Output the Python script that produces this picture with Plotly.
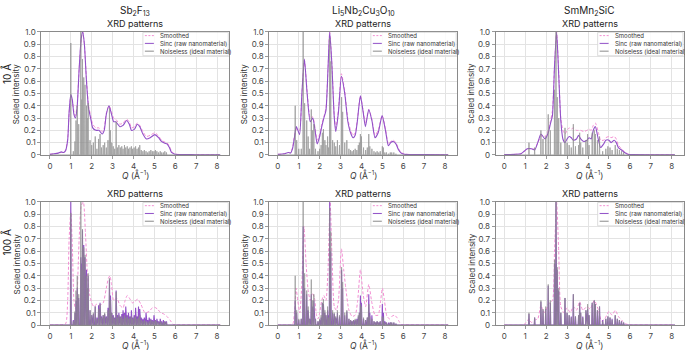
import plotly.graph_objects as go

# ---------------- data ----------------
# Sb2F13
Q_SB_10 = [0,0.2,0.4,0.55,0.65,0.75,0.85,0.92,1.0,1.07,1.15,1.22,1.3,1.4,1.5,1.57,1.65,1.75,1.85,1.95,
           2.05,2.2,2.35,2.5,2.6,2.7,2.83,2.95,3.05,3.15,3.35,3.5,3.67,3.8,3.9,4.05,4.18,4.3,4.45,4.62,
           4.8,5.02,5.2,5.34,5.5,5.6,5.72,5.82,5.95,6.1,6.5,7.0,7.5,8.15]
V_SB_SINC10 = [0.005,0.01,0.015,0.025,0.02,0.035,0.12,0.35,0.49,0.45,0.33,0.30,0.38,0.70,0.95,1.0,0.9,0.6,0.38,0.30,
               0.22,0.20,0.20,0.17,0.20,0.33,0.40,0.33,0.27,0.27,0.23,0.24,0.28,0.25,0.20,0.21,0.25,0.23,0.17,0.13,
               0.14,0.165,0.14,0.11,0.095,0.09,0.06,0.02,0.008,0.004,0.003,0.002,0.002,0.002]
V_SB_SM10 = [0.005,0.01,0.015,0.02,0.02,0.04,0.13,0.34,0.48,0.45,0.35,0.32,0.40,0.70,0.94,1.0,0.9,0.62,0.40,0.32,
             0.25,0.22,0.22,0.19,0.22,0.34,0.40,0.35,0.30,0.29,0.25,0.26,0.29,0.27,0.22,0.23,0.26,0.24,0.19,0.15,
             0.16,0.18,0.155,0.12,0.105,0.10,0.07,0.03,0.01,0.005,0.003,0.002,0.002,0.002]
PK_SB_Q = [1.00,1.12,1.20,1.25,1.31,1.38,1.48,1.52,1.56,1.62,1.68,1.75,1.79,1.83,1.92,2.00,2.08,2.17,2.25,2.33,
           2.40,2.47,2.55,2.62,2.70,2.78,2.85,2.90,2.96,3.03,3.10,3.17,3.23,3.30,3.37,3.44,3.50,3.57,3.63,3.70,
           3.76,3.83,3.90,3.96,4.03,4.10,4.17,4.24,4.30,4.37,4.45,4.52,4.60,4.68,4.75,4.83,4.90,4.98,5.05,5.12,
           5.20,5.28,5.35,5.43,5.50,5.58]
PK_SB_H = [0.91,0.03,0.11,0.28,0.40,0.25,1.00,0.45,0.78,0.63,0.57,0.40,0.30,0.42,0.12,0.08,0.10,0.15,0.05,0.13,
           0.17,0.06,0.08,0.10,0.06,0.12,0.38,0.20,0.10,0.07,0.05,0.27,0.06,0.08,0.06,0.07,0.05,0.08,0.06,0.07,
           0.05,0.06,0.07,0.05,0.06,0.07,0.05,0.06,0.08,0.04,0.03,0.04,0.03,0.02,0.03,0.04,0.03,0.03,0.04,0.03,
           0.02,0.03,0.02,0.02,0.03,0.02]
PK_SB_SINC100_H = [1.0,0.04,0.10,0.20,0.30,0.22,0.55,0.50,0.77,0.65,0.55,0.45,0.30,0.40,0.12,0.08,0.09,0.15,0.06,0.16,
                   0.18,0.07,0.08,0.09,0.07,0.14,0.37,0.24,0.10,0.08,0.06,0.28,0.08,0.10,0.07,0.09,0.12,0.10,0.15,0.08,
                   0.10,0.07,0.12,0.06,0.08,0.14,0.07,0.15,0.13,0.06,0.05,0.06,0.10,0.04,0.06,0.05,0.04,0.08,0.04,0.05,
                   0.03,0.05,0.03,0.04,0.03,0.03]
Q_SB_SM100 = [0,0.5,0.75,0.85,0.92,1.0,1.08,1.15,1.22,1.3,1.4,1.5,1.6,1.7,1.8,1.9,2.0,2.1,2.25,2.4,
              2.55,2.7,2.8,2.87,2.95,3.05,3.2,3.35,3.5,3.6,3.7,3.8,3.95,4.05,4.2,4.35,4.55,4.75,4.9,5.0,
              5.15,5.3,5.45,5.6,5.75,5.9,6.1,7.0,8.15]
V_SB_SM100 = [0,0.002,0.01,0.2,0.7,0.92,0.6,0.2,0.13,0.25,0.7,0.97,1.0,0.75,0.4,0.25,0.18,0.15,0.17,0.16,
              0.18,0.30,0.38,0.40,0.33,0.20,0.22,0.16,0.14,0.20,0.24,0.22,0.18,0.19,0.21,0.17,0.10,0.11,0.14,0.145,
              0.13,0.10,0.09,0.07,0.04,0.005,0.002,0.001,0.001]

# Li5Nb2Cu3O10
Q_LI_10 = [0,0.3,0.5,0.6,0.7,0.8,0.88,0.96,1.04,1.15,1.27,1.4,1.55,1.67,1.78,1.88,2.0,2.1,2.2,2.3,
           2.4,2.48,2.58,2.7,2.77,2.9,3.04,3.2,3.35,3.5,3.6,3.7,3.8,3.95,4.08,4.19,4.35,4.5,4.65,4.8,
           4.99,5.15,5.29,5.4,5.52,5.65,5.78,5.9,6.05,6.3,7.0,8.15]
V_LI_SINC10 = [0.005,0.01,0.02,0.015,0.05,0.15,0.23,0.2,0.165,0.5,0.78,0.5,0.27,0.30,0.2,0.09,0.15,0.23,0.30,0.36,
               0.7,1.0,0.75,0.3,0.19,0.35,0.64,0.5,0.27,0.17,0.14,0.16,0.27,0.48,0.35,0.23,0.37,0.28,0.14,0.18,
               0.32,0.2,0.075,0.1,0.11,0.09,0.04,0.015,0.006,0.004,0.003,0.002]
V_LI_SM10 = [0.005,0.01,0.02,0.02,0.06,0.16,0.21,0.21,0.2,0.5,0.77,0.52,0.3,0.31,0.22,0.12,0.17,0.25,0.31,0.38,
             0.7,1.0,0.76,0.32,0.22,0.37,0.66,0.52,0.29,0.19,0.16,0.18,0.28,0.48,0.36,0.26,0.37,0.29,0.16,0.2,
             0.32,0.21,0.09,0.11,0.12,0.1,0.05,0.02,0.008,0.004,0.003,0.002]
PK_LI_Q = [0.83,0.90,1.00,1.12,1.21,1.28,1.38,1.45,1.52,1.60,1.65,1.72,1.80,1.92,2.00,2.07,2.13,2.18,2.25,2.30,
           2.38,2.42,2.48,2.53,2.62,2.70,2.77,2.85,2.95,3.05,3.10,3.20,3.30,3.40,3.48,3.55,3.62,3.70,3.78,3.85,
           3.90,3.95,4.00,4.10,4.20,4.28,4.35,4.40,4.50,4.60,4.68,4.75,4.83,4.90,5.00,5.05,5.12,5.20,5.30,5.38,
           5.45,5.55,5.65]
PK_LI_H = [0.40,0.12,0.05,0.05,1.00,0.42,0.28,0.15,0.05,0.37,0.20,0.25,0.05,0.03,0.05,0.08,0.18,0.21,0.12,0.08,
           0.15,0.06,0.95,0.76,0.12,0.10,0.07,0.12,0.08,0.47,0.35,0.10,0.12,0.05,0.04,0.03,0.04,0.05,0.04,0.08,
           0.10,0.17,0.15,0.06,0.04,0.06,0.17,0.07,0.05,0.03,0.02,0.03,0.02,0.03,0.07,0.06,0.02,0.02,0.01,0.02,
           0.02,0.02,0.01]
PK_LI_SINC100_H = [0.2,0.1,0.04,0.05,0.80,0.3,0.25,0.12,0.05,0.25,0.15,0.2,0.05,0.03,0.04,0.06,0.18,0.17,0.1,0.08,
                   0.12,0.08,1.0,0.6,0.1,0.09,0.06,0.1,0.07,0.45,0.3,0.08,0.11,0.05,0.04,0.03,0.04,0.04,0.05,0.07,
                   0.1,0.24,0.18,0.05,0.04,0.06,0.25,0.1,0.08,0.03,0.02,0.03,0.02,0.03,0.17,0.1,0.03,0.02,0.02,0.02,
                   0.02,0.02,0.01]
Q_LI_SM100 = [0,0.6,0.72,0.8,0.87,0.95,1.05,1.15,1.25,1.35,1.45,1.55,1.65,1.75,1.85,1.92,2.0,2.1,2.2,2.3,
              2.4,2.5,2.6,2.7,2.8,2.9,3.04,3.15,3.25,3.4,3.55,3.7,3.82,3.95,4.08,4.2,4.35,4.5,4.65,4.8,
              4.92,5.0,5.1,5.22,5.35,5.45,5.58,5.7,5.8,5.9,6.1,7.0,8.15]
V_LI_SM100 = [0,0.001,0.01,0.12,0.3,0.2,0.1,0.35,0.8,0.5,0.28,0.2,0.26,0.22,0.08,0.05,0.1,0.2,0.24,0.2,
              0.45,1.0,0.5,0.15,0.12,0.2,0.62,0.45,0.3,0.12,0.07,0.08,0.2,0.45,0.25,0.15,0.33,0.18,0.08,0.08,
              0.2,0.3,0.2,0.07,0.05,0.07,0.08,0.06,0.03,0.005,0.002,0.001,0.001]

# SmMn2SiC
Q_SM_10 = [0,0.5,0.8,0.95,1.1,1.3,1.45,1.6,1.75,1.85,1.95,2.1,2.2,2.3,2.4,2.5,2.6,2.7,2.8,2.9,
           3.0,3.1,3.2,3.3,3.45,3.55,3.65,3.8,3.95,4.05,4.15,4.25,4.35,4.5,4.6,4.75,4.85,5.0,5.1,5.25,
           5.35,5.45,5.6,5.75,5.9,6.1,7.0,8.15]
V_SM_SINC10 = [0.003,0.005,0.01,0.03,0.05,0.05,0.04,0.1,0.17,0.15,0.13,0.18,0.25,0.32,0.72,1.0,0.65,0.28,0.13,0.1,
               0.13,0.15,0.14,0.12,0.13,0.16,0.13,0.11,0.12,0.14,0.13,0.2,0.23,0.12,0.06,0.09,0.12,0.12,0.1,0.12,
               0.1,0.06,0.04,0.02,0.005,0.003,0.002,0.002]
V_SM_SM10 = [0.003,0.005,0.01,0.03,0.05,0.05,0.05,0.1,0.15,0.16,0.15,0.2,0.27,0.36,0.72,1.0,0.68,0.3,0.2,0.17,
             0.2,0.22,0.21,0.22,0.2,0.2,0.2,0.19,0.2,0.21,0.2,0.24,0.26,0.18,0.12,0.12,0.14,0.15,0.14,0.15,
             0.13,0.08,0.05,0.025,0.008,0.003,0.002,0.002]
PK_SM_Q = [1.18,1.45,1.75,1.85,1.98,2.10,2.20,2.40,2.47,2.53,2.60,2.70,2.90,3.00,3.10,3.20,3.30,3.40,3.55,3.60,
           3.65,3.75,3.90,3.98,4.05,4.20,4.30,4.35,4.45,4.55,4.70,4.85,4.95,5.05,5.15,5.30,5.40,5.50,5.60,5.70]
PK_SM_H = [0.10,0.06,0.20,0.13,0.15,0.33,0.20,0.53,1.00,0.47,0.30,0.10,0.22,0.10,0.08,0.06,0.25,0.07,0.08,0.18,
           0.10,0.06,0.12,0.17,0.08,0.18,0.20,0.17,0.12,0.15,0.03,0.05,0.07,0.06,0.04,0.08,0.05,0.04,0.03,0.02]
PK_SM_SINC100_H = [0.09,0.06,0.19,0.12,0.13,0.32,0.18,0.5,1.0,0.45,0.28,0.1,0.22,0.1,0.08,0.07,0.25,0.07,0.08,0.18,
                   0.1,0.07,0.12,0.13,0.08,0.18,0.2,0.17,0.12,0.15,0.04,0.05,0.07,0.06,0.05,0.08,0.05,0.04,0.03,0.02]
Q_SM_SM100 = [0,0.9,1.05,1.18,1.3,1.45,1.6,1.75,1.85,1.95,2.1,2.3,2.4,2.5,2.6,2.7,2.85,3.0,3.15,3.3,
              3.45,3.6,3.75,3.95,4.1,4.3,4.5,4.65,4.8,5.0,5.15,5.3,5.45,5.6,5.8,6.0,7.0,8.15]
V_SM_SM100 = [0,0.001,0.02,0.05,0.02,0.04,0.05,0.16,0.12,0.1,0.17,0.2,0.6,1.0,0.6,0.15,0.1,0.14,0.1,0.15,
              0.12,0.19,0.12,0.15,0.13,0.2,0.12,0.03,0.05,0.11,0.08,0.12,0.07,0.04,0.01,0.002,0.001,0.001]

MATERIALS = ["Sb<sub>2</sub>F<sub>13</sub>", "Li<sub>5</sub>Nb<sub>2</sub>Cu<sub>3</sub>O<sub>10</sub>", "SmMn<sub>2</sub>SiC"]
ROW_LABELS = ["10 Å", "100 Å"]
X_TICKS = [0, 1, 2, 3, 4, 5, 6, 7, 8]
Y_TICKS = [0, 0.1, 0.2, 0.3, 0.4, 0.5, 0.6, 0.7, 0.8, 0.9, 1.0]
Y_TICKTEXT = ["0", "0.1", "0.2", "0.3", "0.4", "0.5", "0.6", "0.7", "0.8", "0.9", "1.0"]
SERIES = ["Smoothed", "Sinc (raw nanomaterial)", "Noiseless (ideal material)"]

# ---------------- styling ----------------
PINK = "#f38fd3"
PURPLE = "#9150c8"
GRAY = "#8a8a8a"
FONT = "Inter"
W, H = 685, 355
COL_PX = [(41.4, 229.1), (269.7, 457.4), (496.4, 684.5)]
ROW_PX = [(27.7, 154.3), (202.7, 329.3)]
XR = [-0.41, 8.56]


def fx(p):
    return p / W


def fy(p):
    return 1 - p / H


def stick_line(qs, hs, w):
    xs, ys = [0.0], [0.0]
    for q, h in sorted(zip(qs, hs)):
        xs += [q - w, q, q + w]
        ys += [0.0, h, 0.0]
    xs.append(8.15)
    ys.append(0.0)
    return xs, ys


panels = [
    dict(sm=(Q_SB_10, V_SB_SM10), sinc=("curve", Q_SB_10, V_SB_SINC10), pk=(PK_SB_Q, PK_SB_H)),
    dict(sm=(Q_LI_10, V_LI_SM10), sinc=("curve", Q_LI_10, V_LI_SINC10), pk=(PK_LI_Q, PK_LI_H)),
    dict(sm=(Q_SM_10, V_SM_SM10), sinc=("curve", Q_SM_10, V_SM_SINC10), pk=(PK_SM_Q, PK_SM_H)),
    dict(sm=(Q_SB_SM100, V_SB_SM100), sinc=("sticks", PK_SB_Q, PK_SB_SINC100_H), pk=(PK_SB_Q, PK_SB_H)),
    dict(sm=(Q_LI_SM100, V_LI_SM100), sinc=("sticks", PK_LI_Q, PK_LI_SINC100_H), pk=(PK_LI_Q, PK_LI_H)),
    dict(sm=(Q_SM_SM100, V_SM_SM100), sinc=("sticks", PK_SM_Q, PK_SM_SINC100_H), pk=(PK_SM_Q, PK_SM_H)),
]

fig = go.Figure()
layout = dict(
    width=W, height=H, margin=dict(l=0, r=0, t=0, b=0),
    paper_bgcolor="white", plot_bgcolor="white", showlegend=False,
    font=dict(family=FONT, size=8, color="#333"),
)
annotations = []
shapes = []

for k, p in enumerate(panels):
    r, c = divmod(k, 3)
    n = "" if k == 0 else str(k + 1)
    xref, yref = "x" + n, "y" + n
    x0, x1 = COL_PX[c]
    y0, y1 = ROW_PX[r]

    fig.add_trace(go.Scatter(x=p["sm"][0], y=p["sm"][1], mode="lines", name=SERIES[0],
                             line=dict(color=PINK, width=1, dash="3px,2px", shape="spline", smoothing=0.6),
                             xaxis=xref, yaxis=yref))
    kind, a, b = p["sinc"]
    if kind == "curve":
        fig.add_trace(go.Scatter(x=a, y=b, mode="lines", name=SERIES[1],
                                 line=dict(color=PURPLE, width=1.1, shape="spline", smoothing=0.6),
                                 xaxis=xref, yaxis=yref))
    else:
        sx, sy = stick_line(a, b, 0.022)
        fig.add_trace(go.Scatter(x=sx, y=sy, mode="lines", name=SERIES[1],
                                 line=dict(color=PURPLE, width=1.1),
                                 xaxis=xref, yaxis=yref))
    gx, gy = stick_line(p["pk"][0], p["pk"][1], 0.011)
    fig.add_trace(go.Scatter(x=gx, y=gy, mode="lines", name=SERIES[2],
                             line=dict(color=GRAY, width=0.9), opacity=0.8,
                             xaxis=xref, yaxis=yref))

    layout["xaxis" + n] = dict(
        domain=[fx(x0), fx(x1)], anchor=yref, range=XR,
        tickvals=X_TICKS, ticks="outside", ticklen=3, tickcolor="#999",
        tickfont=dict(size=8, color="#444"),
        showgrid=True, gridcolor="#e3e3e3", gridwidth=1, zeroline=False,
        showline=True, linecolor="#8a8a8a", linewidth=1, mirror=True,
    )
    layout["yaxis" + n] = dict(
        domain=[fy(y1), fy(y0)], anchor=xref, range=[0, 1],
        tickvals=Y_TICKS, ticktext=Y_TICKTEXT, ticks="outside", ticklen=3, tickcolor="#999",
        tickfont=dict(size=8, color="#444"),
        showgrid=True, gridcolor="#e3e3e3", gridwidth=1, zeroline=False,
        showline=True, linecolor="#8a8a8a", linewidth=1, mirror=True,
    )

    cx = (x0 + x1) / 2
    annotations.append(dict(text="XRD patterns", x=fx(cx), y=fy(y0 - 8.4), xref="paper", yref="paper",
                            showarrow=False, font=dict(size=9, color="#222"), xanchor="center", yanchor="middle"))
    annotations.append(dict(text="<i>Q</i> (Å<sup>−1</sup>)", x=fx(cx), y=fy(y1 + 20.5), xref="paper", yref="paper",
                            showarrow=False, font=dict(size=8.5, color="#333"), xanchor="center", yanchor="middle"))
    annotations.append(dict(text="Scaled intensity", x=fx(x0 - 24.5), y=fy((y0 + y1) / 2), xref="paper", yref="paper",
                            showarrow=False, textangle=-90, font=dict(size=8, color="#333"),
                            xanchor="center", yanchor="middle"))

    lx1, lx0 = x1, x1 - 86
    shapes.append(dict(type="rect", xref="paper", yref="paper", x0=fx(lx0), x1=fx(lx1 - 0.5),
                       y0=fy(y0 + 24.5), y1=fy(y0 + 0.5), fillcolor="rgba(255,255,255,0.85)",
                       line=dict(color="#d6d6d6", width=0.8), layer="above"))
    for i, (col, dash) in enumerate([(PINK, "2px,1.5px"), (PURPLE, "solid"), (GRAY, "solid")]):
        yy = y0 + 3.8 + 8 * i
        shapes.append(dict(type="line", xref="paper", yref="paper", x0=fx(lx0 + 2), x1=fx(lx0 + 11),
                           y0=fy(yy), y1=fy(yy), line=dict(color=col, width=1, dash=dash), layer="above"))
        annotations.append(dict(text=SERIES[i], x=fx(lx0 + 15), y=fy(yy), xref="paper", yref="paper",
                                showarrow=False, font=dict(size=6, color="#333"),
                                xanchor="left", yanchor="middle"))

for c in range(3):
    cx = (COL_PX[c][0] + COL_PX[c][1]) / 2
    annotations.append(dict(text=MATERIALS[c], x=fx(cx), y=fy(6.5), xref="paper", yref="paper",
                            showarrow=False, font=dict(size=10, color="#222"), xanchor="center", yanchor="middle"))
for r, yc in enumerate([70.5, 244]):
    annotations.append(dict(text=ROW_LABELS[r], x=fx(6.5), y=fy(yc), xref="paper", yref="paper",
                            showarrow=False, textangle=-90, font=dict(size=10, color="#222"),
                            xanchor="center", yanchor="middle"))

layout["annotations"] = annotations
layout["shapes"] = shapes
fig.update_layout(**layout)
fig.write_html("out.html", config={"displayModeBar": False},
               post_script="document.body.style.margin='0px';document.body.style.overflow='hidden';")
